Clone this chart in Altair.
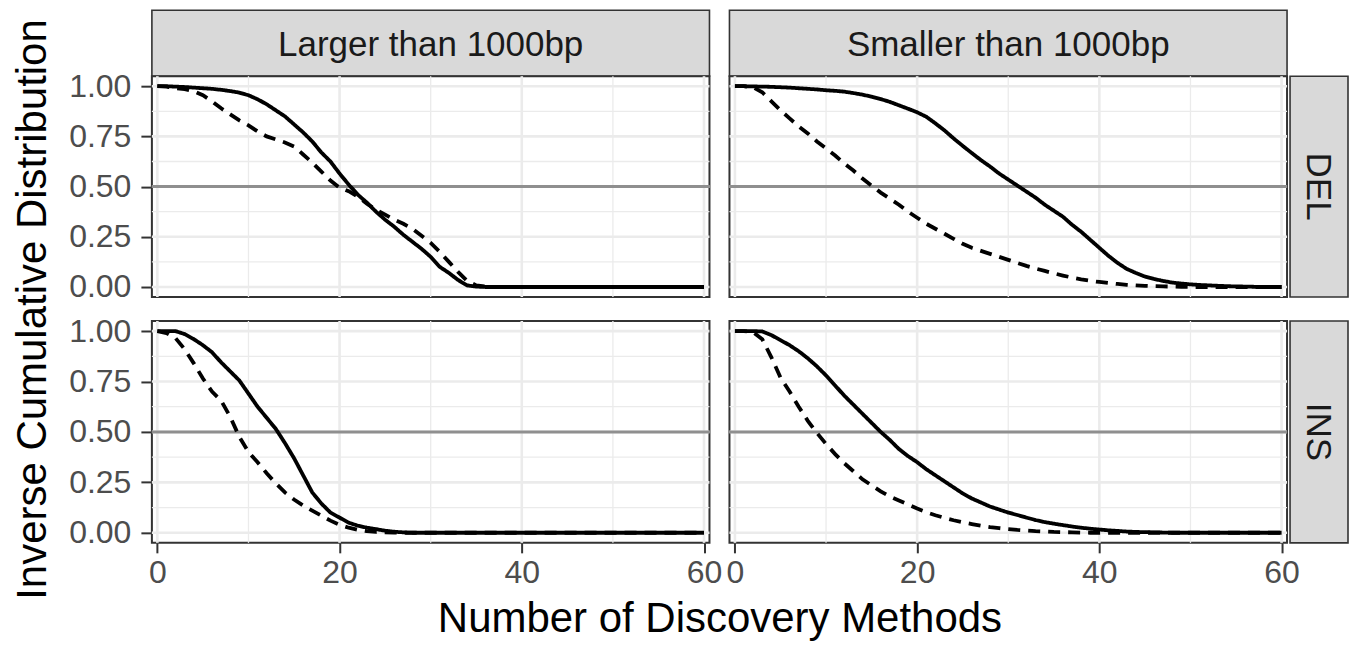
import altair as alt
import pandas as pd

# ---------------- data ----------------
x_vals = [0, 1, 2, 3, 4, 5, 6, 7, 8, 9, 10, 11, 12, 13, 14, 15, 16, 17, 18, 19, 20,
          21, 22, 23, 24, 25, 26, 27, 28, 29, 30, 31, 32, 33, 34, 35, 36, 37, 38, 39, 40,
          41, 42, 43, 44, 45, 46, 47, 48, 49, 50, 51, 52, 53, 54, 55, 56, 57, 58, 59, 60]

series_names = ["Series A", "Series B"]  # solid, dashed
col_labels = ["Larger than 1000bp", "Smaller than 1000bp"]
row_labels = ["DEL", "INS"]

# Larger than 1000bp, DEL
ld_solid = [1.0, 1.0, 0.998, 0.996, 0.993, 0.99, 0.987, 0.982, 0.976, 0.968, 0.955,
            0.935, 0.91, 0.88, 0.85, 0.81, 0.77, 0.725, 0.67, 0.625, 0.565,
            0.51, 0.46, 0.42, 0.375, 0.335, 0.30, 0.26, 0.225, 0.19, 0.15,
            0.10, 0.07, 0.035, 0.008, 0.002, 0, 0, 0, 0, 0,
            0, 0, 0, 0, 0, 0, 0, 0, 0, 0,
            0, 0, 0, 0, 0, 0, 0, 0, 0, 0]
ld_dash = [1.0, 0.998, 0.99, 0.985, 0.975, 0.955, 0.925, 0.89, 0.86, 0.83, 0.805,
           0.775, 0.75, 0.735, 0.72, 0.70, 0.66, 0.62, 0.575, 0.53, 0.495,
           0.477, 0.45, 0.415, 0.385, 0.36, 0.335, 0.315, 0.29, 0.255, 0.22,
           0.175, 0.125, 0.075, 0.03, 0.008, 0.002, 0, 0, 0, 0,
           0, 0, 0, 0, 0, 0, 0, 0, 0, 0,
           0, 0, 0, 0, 0, 0, 0, 0, 0, 0]
# Smaller than 1000bp, DEL
sd_solid = [1.0, 1.0, 0.999, 0.998, 0.997, 0.995, 0.993, 0.99, 0.987, 0.984, 0.98,
            0.977, 0.973, 0.966, 0.958, 0.948, 0.936, 0.922, 0.905, 0.888, 0.87,
            0.848, 0.815, 0.78, 0.74, 0.703, 0.667, 0.632, 0.60, 0.565, 0.535,
            0.505, 0.475, 0.445, 0.41, 0.38, 0.35, 0.31, 0.275, 0.235, 0.195,
            0.155, 0.12, 0.09, 0.07, 0.052, 0.04, 0.03, 0.022, 0.017, 0.013,
            0.01, 0.008, 0.006, 0.004, 0.003, 0.002, 0.001, 0, 0, 0]
sd_dash = [1.0, 1.0, 0.995, 0.97, 0.925, 0.88, 0.84, 0.80, 0.765, 0.725, 0.69,
           0.655, 0.615, 0.58, 0.54, 0.505, 0.47, 0.44, 0.41, 0.375, 0.345,
           0.315, 0.29, 0.265, 0.24, 0.215, 0.195, 0.18, 0.165, 0.15, 0.135,
           0.12, 0.105, 0.092, 0.08, 0.068, 0.057, 0.047, 0.038, 0.031, 0.025,
           0.02, 0.015, 0.011, 0.008, 0.006, 0.004, 0.003, 0.002, 0.001, 0,
           0, 0, 0, 0, 0, 0, 0, 0, 0, 0]
# Larger than 1000bp, INS
li_solid = [1.0, 1.0, 1.0, 0.985, 0.96, 0.93, 0.895, 0.845, 0.80, 0.755, 0.69,
            0.625, 0.57, 0.515, 0.445, 0.37, 0.285, 0.20, 0.145, 0.10, 0.075,
            0.05, 0.035, 0.025, 0.018, 0.01, 0.005, 0.002, 0, 0, 0,
            0, 0, 0, 0, 0, 0, 0, 0, 0, 0,
            0, 0, 0, 0, 0, 0, 0, 0, 0, 0,
            0, 0, 0, 0, 0, 0, 0, 0, 0, 0]
li_dash = [1.0, 0.99, 0.965, 0.91, 0.84, 0.765, 0.70, 0.655, 0.575, 0.475, 0.40,
           0.35, 0.295, 0.245, 0.20, 0.165, 0.135, 0.11, 0.085, 0.06, 0.04,
           0.025, 0.015, 0.008, 0.004, 0.002, 0.001, 0, 0, 0, 0,
           0, 0, 0, 0, 0, 0, 0, 0, 0, 0,
           0, 0, 0, 0, 0, 0, 0, 0, 0, 0,
           0, 0, 0, 0, 0, 0, 0, 0, 0, 0]
# Smaller than 1000bp, INS
si_solid = [1.0, 1.0, 1.0, 0.998, 0.98, 0.955, 0.93, 0.90, 0.865, 0.825, 0.78,
            0.73, 0.68, 0.635, 0.59, 0.545, 0.50, 0.46, 0.415, 0.38, 0.35,
            0.315, 0.285, 0.255, 0.225, 0.195, 0.17, 0.15, 0.13, 0.115, 0.10,
            0.088, 0.075, 0.063, 0.053, 0.045, 0.038, 0.031, 0.025, 0.02, 0.016,
            0.012, 0.009, 0.006, 0.004, 0.003, 0.002, 0.001, 0, 0, 0,
            0, 0, 0, 0, 0, 0, 0, 0, 0, 0]
si_dash = [1.0, 1.0, 0.995, 0.96, 0.87, 0.77, 0.70, 0.625, 0.555, 0.495, 0.44,
           0.39, 0.345, 0.305, 0.265, 0.235, 0.205, 0.18, 0.16, 0.14, 0.12,
           0.102, 0.087, 0.074, 0.062, 0.052, 0.043, 0.035, 0.028, 0.023, 0.018,
           0.014, 0.011, 0.008, 0.006, 0.004, 0.003, 0.002, 0.001, 0, 0,
           0, 0, 0, 0, 0, 0, 0, 0, 0, 0,
           0, 0, 0, 0, 0, 0, 0, 0, 0, 0]

x_major = [0, 20, 40, 60]
x_minor = [10, 30, 50]
y_major = [0, 0.25, 0.5, 0.75, 1.0]
y_minor = [0.125, 0.375, 0.625, 0.875]
ref_line = [0.5]

# ---------------- layout constants ----------------
PW = 558      # panel width
PH = 221      # panel height
STRIP_H = 66
ROW_GAP = 24
COL_GAP = 20
RSTRIP_W = 41
FONT = "Liberation Sans"

xs = alt.Scale(domain=[-0.6, 60.6], nice=False, zero=False)
ys = alt.Scale(domain=[-0.05, 1.05], nice=False, zero=False)


def x_axis(title=None):
    kw = dict(values=x_major, format="d", labelFontSize=32, labelColor="#4D4D4D",
              labelFont=FONT, tickColor="#333333", tickWidth=2, tickSize=10,
              labelPadding=5, domain=False, grid=False, labelFlush=False,
              labelOverlap=False, title=title)
    if title:
        kw.update(titleFontSize=42, titleColor="black", titleFont=FONT,
                  titleFontWeight="normal", titleX=PW + COL_GAP / 2, titleY=89,
                  titleBaseline="alphabetic", titleAlign="center")
    return alt.Axis(**kw)


def y_axis(title=None):
    kw = dict(values=y_major, format=".2f", labelFontSize=32, labelColor="#4D4D4D",
              labelFont=FONT, tickColor="#333333", tickWidth=2, tickSize=11,
              labelPadding=10, domain=False, grid=False, labelFlush=False,
              labelOverlap=False, title=title)
    if title:
        kw.update(titleFontSize=42, titleColor="black", titleFont=FONT,
                  titleFontWeight="normal", titleX=-106, titleY=PH + ROW_GAP / 2,
                  titleBaseline="alphabetic", titleAlign="center", titleAngle=270)
    return alt.Axis(**kw)


def panel(solid, dashed, xax, yax, height=PH):
    df = pd.DataFrame({
        "x": x_vals + x_vals,
        "y": solid + dashed,
        "series": [series_names[0]] * len(x_vals) + [series_names[1]] * len(x_vals),
    })
    xenc = alt.X("x:Q", scale=xs, axis=xax)
    yenc = alt.Y("y:Q", scale=ys, axis=yax)

    vmin = alt.Chart(pd.DataFrame({"x": x_minor})).mark_rule(
        color="#EBEBEB", strokeWidth=1.3).encode(x=xenc)
    hmin = alt.Chart(pd.DataFrame({"y": y_minor})).mark_rule(
        color="#EBEBEB", strokeWidth=1.3).encode(y=yenc)
    vmaj = alt.Chart(pd.DataFrame({"x": x_major})).mark_rule(
        color="#EBEBEB", strokeWidth=2.6).encode(x=xenc)
    hmaj = alt.Chart(pd.DataFrame({"y": y_major})).mark_rule(
        color="#EBEBEB", strokeWidth=2.6).encode(y=yenc)
    href = alt.Chart(pd.DataFrame({"y": ref_line})).mark_rule(
        color="#8F8F8F", strokeWidth=3).encode(y=yenc)
    lines = alt.Chart(df).mark_line(color="black", strokeWidth=3.8).encode(
        x=xenc, y=yenc,
        strokeDash=alt.StrokeDash("series:N", legend=None,
                                  scale=alt.Scale(domain=series_names,
                                                  range=[[1, 0], [12, 8]])),
        detail="series:N",
    )
    return alt.layer(vmin, hmin, vmaj, hmaj, href, lines).properties(
        width=PW, height=height)


def top_strip(label):
    df = pd.DataFrame({"label": [label]})
    box = alt.Chart(df).mark_rect(fill="#D9D9D9", stroke="#333333", strokeWidth=1.6).encode(
        x=alt.value(0), x2=alt.value(PW), y=alt.value(0), y2=alt.value(STRIP_H))
    txt = alt.Chart(df).mark_text(font=FONT, fontSize=35, color="#1A1A1A",
                                  align="center", baseline="alphabetic").encode(
        text="label:N", x=alt.value(PW / 2), y=alt.value(46))
    return alt.layer(box, txt).properties(
        width=PW, height=STRIP_H - ROW_GAP, view=alt.ViewBackground(stroke="transparent"))


def right_strip(label, height=PH):
    df = pd.DataFrame({"label": [label]})
    box = alt.Chart(df).mark_rect(fill="#D9D9D9", stroke="#333333", strokeWidth=1.6).encode(
        x=alt.value(-17), x2=alt.value(RSTRIP_W), y=alt.value(0), y2=alt.value(height))
    txt = alt.Chart(df).mark_text(font=FONT, fontSize=35, color="#1A1A1A", angle=90,
                                  align="center", baseline="alphabetic").encode(
        text="label:N", x=alt.value(0), y=alt.value(height / 2))
    return alt.layer(box, txt).properties(
        width=RSTRIP_W, height=height, view=alt.ViewBackground(stroke="transparent"))


empty = alt.Chart(pd.DataFrame({"a": [0]})).mark_rect(opacity=0).encode(
    x=alt.value(0), x2=alt.value(1), y=alt.value(0), y2=alt.value(1)
).properties(width=RSTRIP_W, height=STRIP_H - ROW_GAP,
             view=alt.ViewBackground(stroke="transparent"))

cells = [
    top_strip(col_labels[0]), top_strip(col_labels[1]), empty,
    panel(ld_solid, ld_dash, None, y_axis("Inverse Cumulative Distribution")),
    panel(sd_solid, sd_dash, None, None),
    right_strip(row_labels[0]),
    panel(li_solid, li_dash, x_axis("Number of Discovery Methods"), y_axis(None), PH + 1),
    panel(si_solid, si_dash, x_axis(None), None, PH + 1),
    right_strip(row_labels[1], PH + 1),
]

chart = alt.concat(
    *cells, columns=3, align="each", bounds="flush",
    spacing={"row": ROW_GAP, "column": COL_GAP},
).properties(padding={"left": 2, "top": 0, "right": 0, "bottom": 0}).configure(
    font=FONT).configure_view(stroke="#333333", strokeWidth=2)

chart.save("out.html", embed_options={"renderer": "svg", "actions": False})
